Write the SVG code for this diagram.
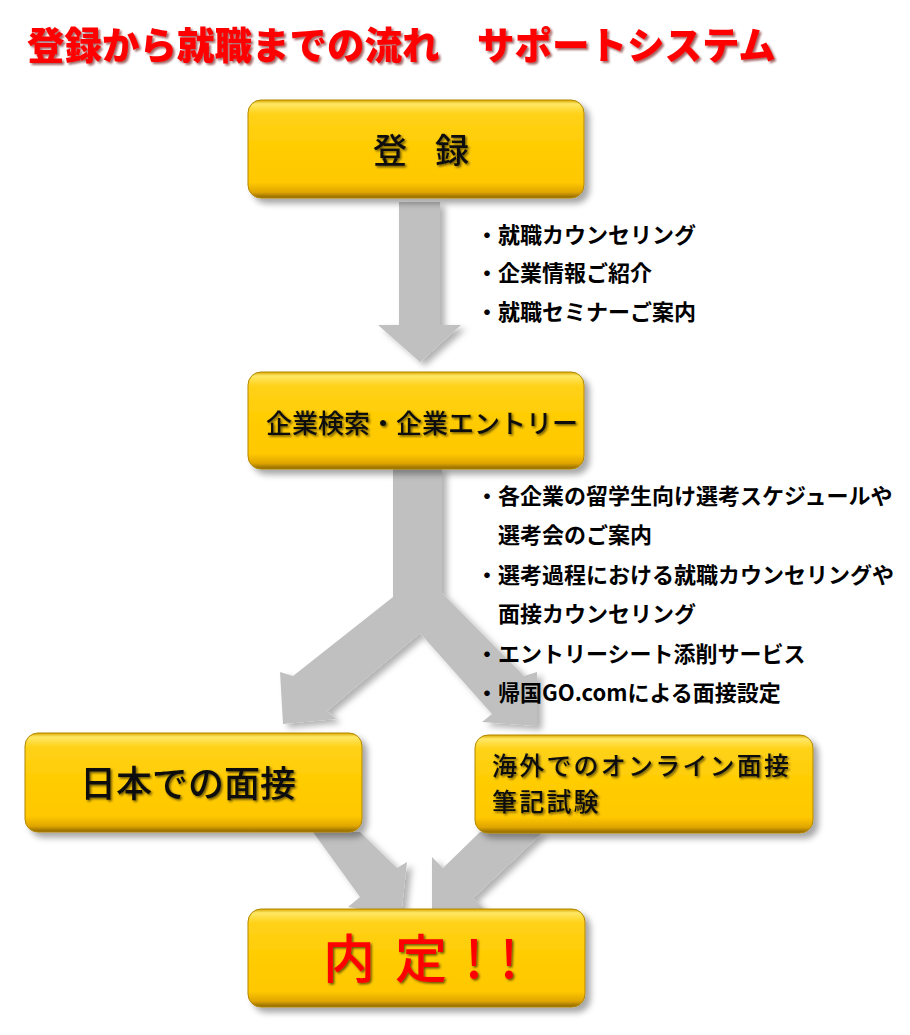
<svg xmlns="http://www.w3.org/2000/svg" width="910" height="1035" viewBox="0 0 910 1035">
<defs>
<linearGradient id="gold" x1="0" y1="0" x2="0" y2="1">
<stop offset="0" stop-color="#D9A800"/>
<stop offset="0.04" stop-color="#FFE866"/>
<stop offset="0.14" stop-color="#FFD21A"/>
<stop offset="0.5" stop-color="#FFCC00"/>
<stop offset="0.84" stop-color="#FFC800"/>
<stop offset="0.94" stop-color="#E0A600"/>
<stop offset="1" stop-color="#8C6600"/>
</linearGradient>
<filter id="boxShadow" x="-10%" y="-20%" width="125%" height="150%">
<feDropShadow dx="5" dy="5" stdDeviation="3" flood-color="#000" flood-opacity="0.35"/>
</filter>
<filter id="arrowShadow" x="-20%" y="-20%" width="140%" height="140%">
<feDropShadow dx="5" dy="4" stdDeviation="3" flood-color="#000" flood-opacity="0.3"/>
</filter>
<filter id="txtShadow" x="-5%" y="-20%" width="110%" height="150%">
<feDropShadow dx="1.5" dy="1.5" stdDeviation="0.9" flood-color="#000" flood-opacity="0.6"/>
</filter>
<filter id="titleShadow" x="-5%" y="-20%" width="110%" height="150%">
<feDropShadow dx="2" dy="2" stdDeviation="1" flood-color="#600" flood-opacity="0.6"/>
</filter>
</defs>
<style>
.jp{font-family:"Noto Sans CJK JP","Noto Sans CJK SC",sans-serif}
.title{font-size:37.5px;font-weight:900;fill:#FF0000}
.box{fill:url(#gold);stroke:#B38600;stroke-width:1}
.lbl{fill:#111;font-weight:500;filter:url(#txtShadow)}
.bul{font-size:22px;font-weight:700;fill:#000}
.arr{fill:#C0C0C0;filter:url(#arrowShadow)}
</style>
<rect width="910" height="1035" fill="#FFFFFF"/>
<text class="jp title" x="27" y="59" filter="url(#titleShadow)">登録から就職までの流れ　サポートシステム</text>

<g id="connectors">
<polygon class="arr" points="399,202 440,202 440,325 461,325 420,362 378,325 399,325"/>
<polygon class="arr" points="393,468 442,468 442,593 524,676 537,672 537,726 482,722 492,714 420,633 327,711 336,719 283,724 280,672 293,676 393,597"/>
<polygon class="arr" points="313,832 360,832 397,868 407,862 401,916 348,907 360,897"/>
<polygon class="arr" points="480,832 543,832 473,898 485,910 432,914 432,857 443,868"/>
</g>

<g id="node-register">
<rect class="box" x="248" y="100" width="336" height="98" rx="13" filter="url(#boxShadow)"/>
<text class="jp lbl" y="163" font-size="34"><tspan x="373">登</tspan><tspan x="435">録</tspan></text>
</g>

<g id="node-search">
<rect class="box" x="248" y="372" width="336" height="97" rx="13" filter="url(#boxShadow)"/>
<text class="jp lbl" x="266" y="433" font-size="26">企業検索・企業エントリー</text>
</g>

<g id="node-japan">
<rect class="box" x="25" y="733" width="337" height="99" rx="13" filter="url(#boxShadow)"/>
<text class="jp lbl" x="80" y="797" font-size="36">日本での面接</text>
</g>

<g id="node-overseas">
<rect class="box" x="475" y="735" width="338" height="98" rx="13" filter="url(#boxShadow)"/>
<text class="jp lbl" x="492" y="775" font-size="25" letter-spacing="2.2">海外でのオンライン面接</text>
<text class="jp lbl" x="492" y="811" font-size="25" letter-spacing="2.2">筆記試験</text>
</g>

<g id="node-offer">
<rect class="box" x="248" y="909" width="337" height="98" rx="13" filter="url(#boxShadow)"/>
<text class="jp lbl" y="978" font-size="52" style="fill:#FF0000" text-anchor="middle"><tspan x="349">内</tspan><tspan x="421">定</tspan><tspan x="474">!</tspan><tspan x="509">!</tspan></text>
</g>

<g id="notes-1" class="jp bul">
<text x="476" y="243">・就職カウンセリング</text>
<text x="476" y="281">・企業情報ご紹介</text>
<text x="476" y="320">・就職セミナーご案内</text>
</g>

<g id="notes-2" class="jp bul">
<text x="476" y="504">・各企業の留学生向け選考スケジュールや</text>
<text x="498" y="543">選考会のご案内</text>
<text x="476" y="583">・選考過程における就職カウンセリングや</text>
<text x="498" y="622">面接カウンセリング</text>
<text x="476" y="662">・エントリーシート添削サービス</text>
<text x="476" y="701">・帰国GO.comによる面接設定</text>
</g>
</svg>
